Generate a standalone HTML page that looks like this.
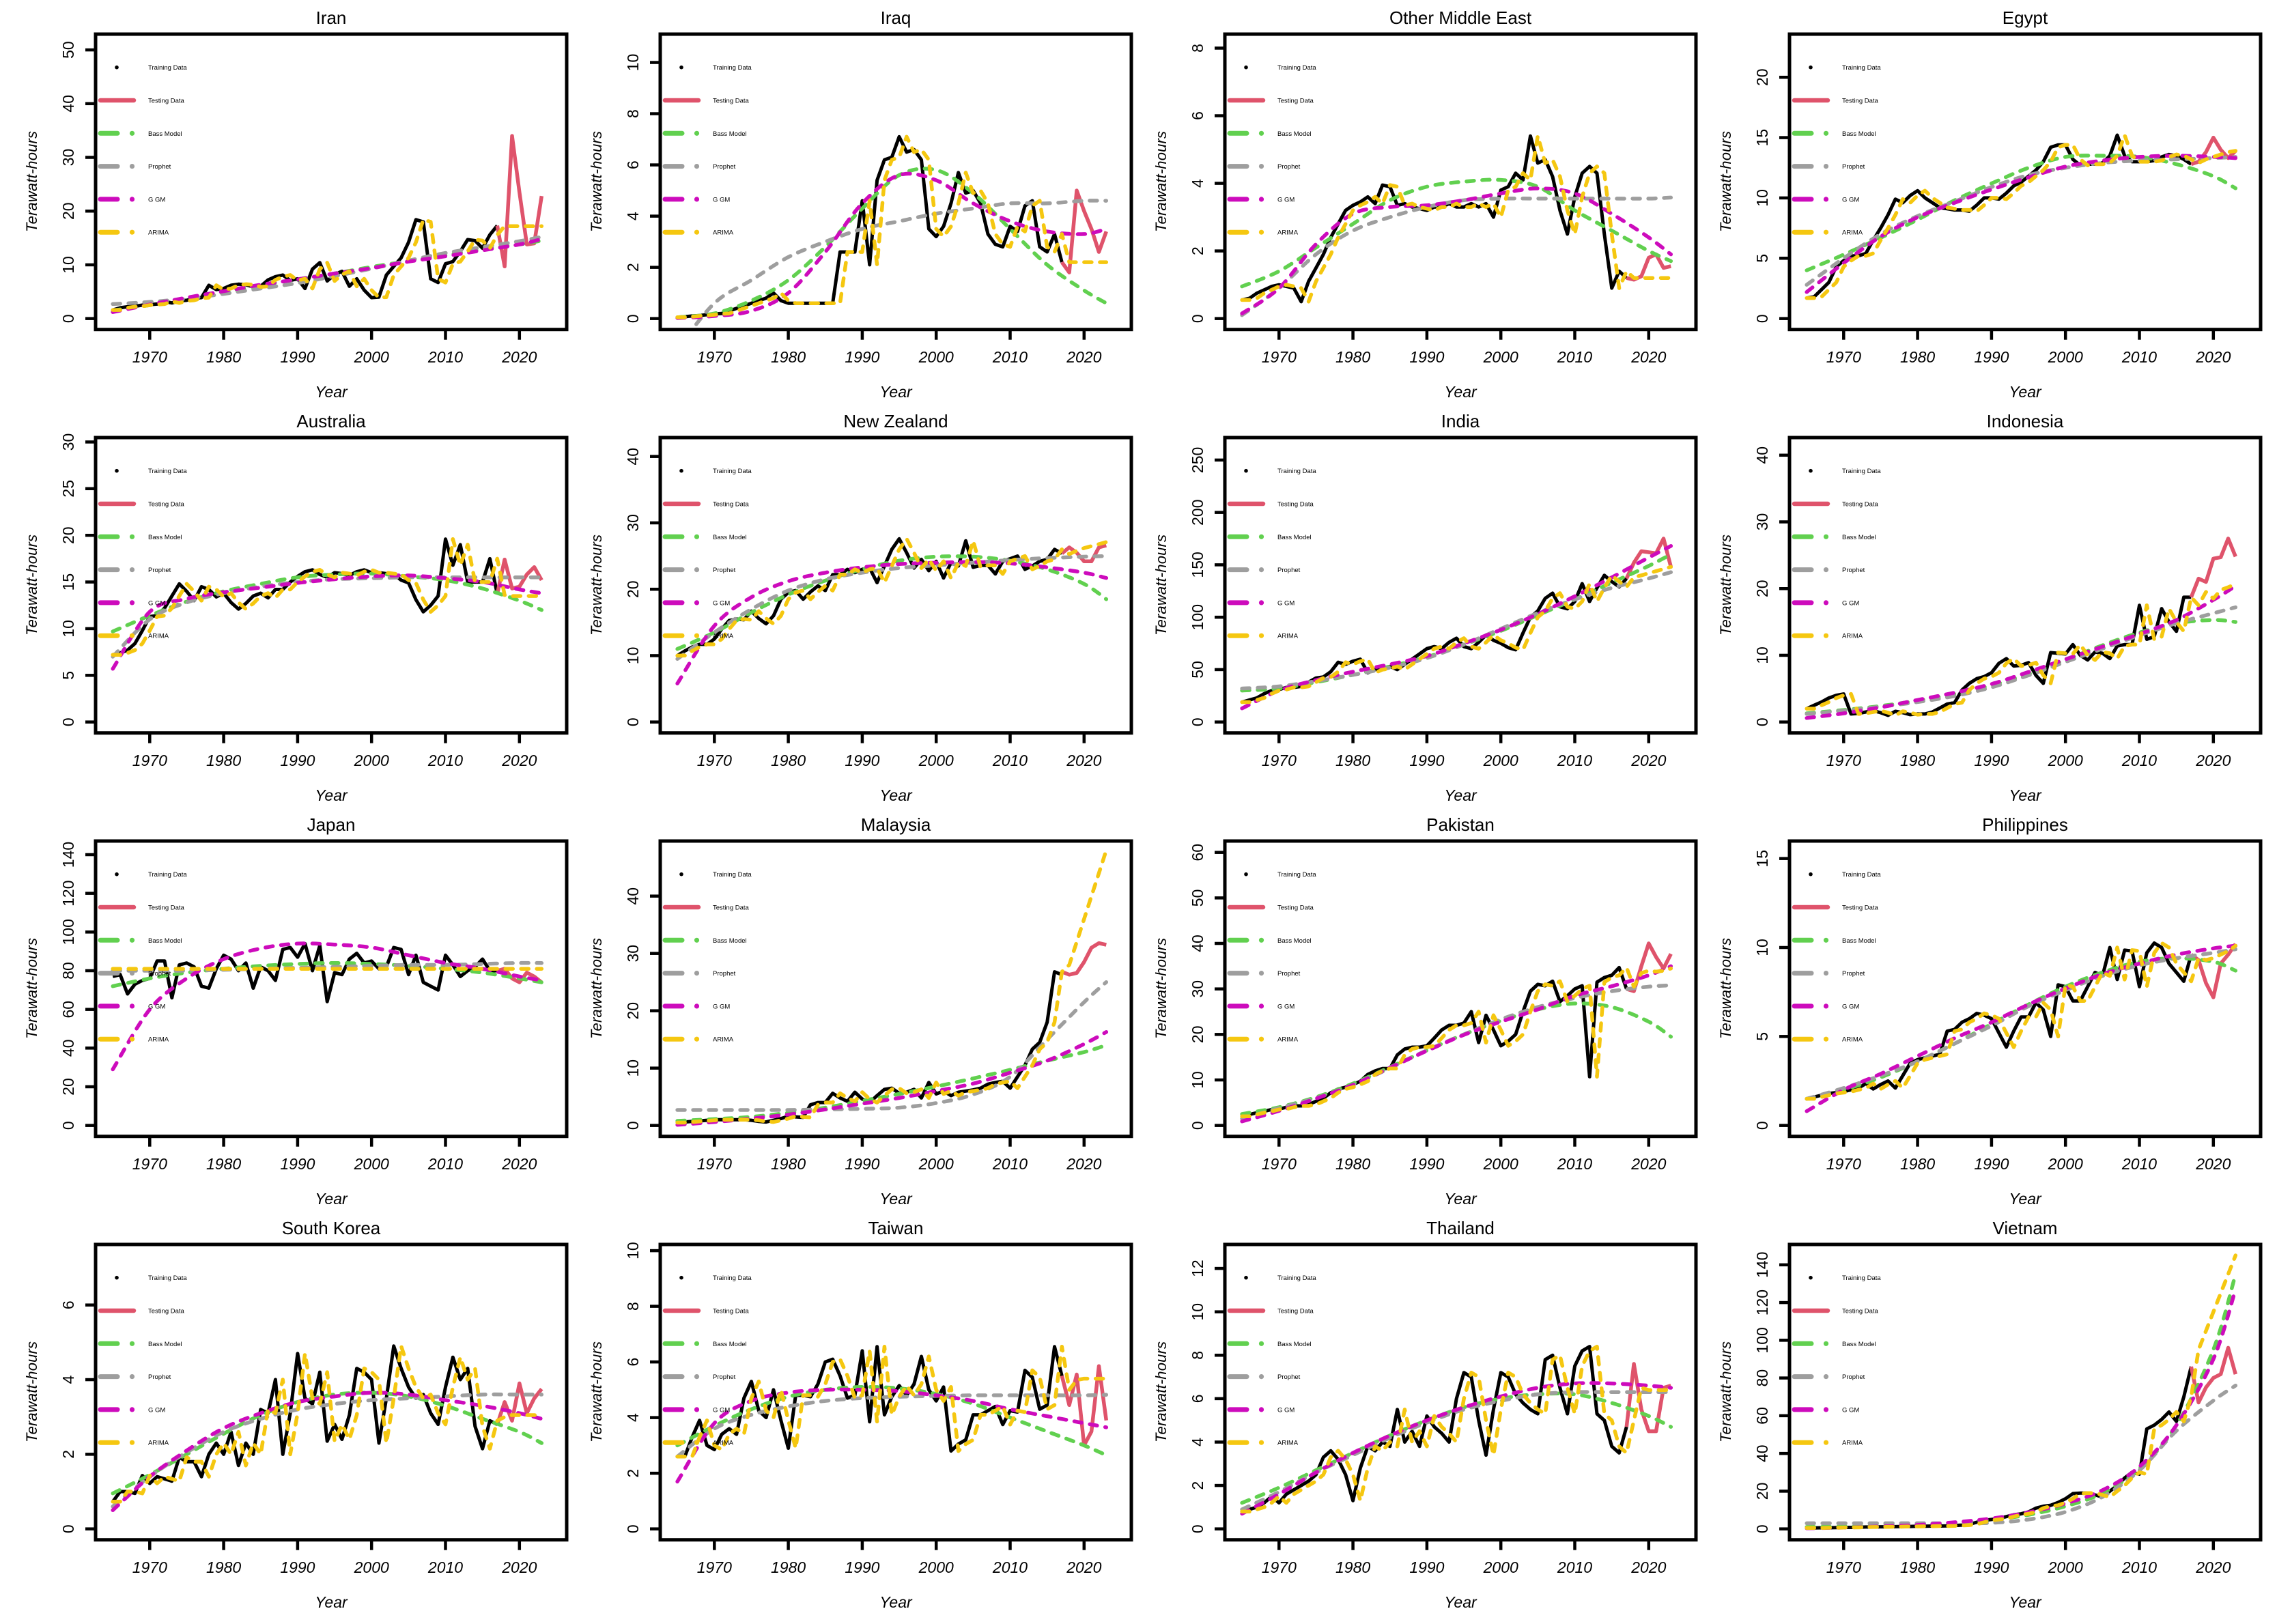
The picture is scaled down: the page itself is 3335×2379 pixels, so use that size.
<!DOCTYPE html>
<html><head><meta charset="utf-8"><title>Renewable generation forecasts</title>
<style>
html,body{margin:0;padding:0;background:#fff;}
svg{display:block;font-family:"Liberation Sans",sans-serif;}
</style></head>
<body>
<svg id="chart" xmlns="http://www.w3.org/2000/svg" width="3335" height="2379" viewBox="0 0 3335 2379"><rect width="3335" height="2379" fill="#fff"/></svg>
<script>
// ---- shared year axes ----
const trainStart = 1965, trainEnd = 2017;
const testYears = [2017,2018,2019,2020,2021,2022,2023];
const arimaYears = [2018,2019,2020,2021,2022,2023];
const modelYears = [1965,1970,1975,1980,1985,1990,1995,2000,2005,2010,2015,2020,2023];
const xTicks = [1970,1980,1990,2000,2010,2020];

// ---- Iran ----
const iranTrain = [1.6,2.0,2.2,2.3,2.5,2.6,2.7,3.2,2.9,3.3, 3.4,3.8,3.9,6.2,5.4,5.6,6.2,6.4,6.3,5.9, 6.0,7.2,7.8,8.1,7.1,7.4,5.6,9.2,10.4,7.0, 8.2,8.8,6.0,7.4,5.3,3.9,4.0,8.1,9.7,11.3, 14.2,18.4,18.0,7.4,6.7,10.2,10.6,12.5,14.7,14.5, 13.1,15.6,17.3];
const iranTest = [17.3,9.7,34.0,23.5,13.8,14.0,22.8];
const iranBass = [1.5,2.5,3.6,4.9,6.2,7.3,8.4,9.6,10.7,11.8,12.9,13.8,14.5];
const iranProphet = [2.7,3.1,3.7,4.6,5.6,6.6,7.9,9.3,10.8,12.2,13.3,14.4,15.2];
const iranGgm = [1.2,2.6,3.9,5.1,6.3,7.3,8.4,9.4,10.6,11.6,12.7,13.8,14.8];
const iranArima = [17.2,17.2,17.2,17.2,17.2,17.2];
const iranTicks = [0,10,20,30,40,50];
// ---- Iraq ----
const iraqTrain = [0.05,0.07,0.1,0.12,0.15,0.18,0.2,0.3,0.4,0.5, 0.6,0.7,0.8,1.0,0.7,0.6,0.6,0.6,0.6,0.6, 0.6,0.6,2.6,2.6,2.6,4.6,2.1,5.4,6.2,6.3, 7.1,6.5,6.6,6.2,3.5,3.2,3.6,4.5,5.7,4.9, 5.0,4.5,3.3,2.9,2.8,3.6,3.4,4.4,4.6,2.8, 2.6,3.3,2.2];
const iraqTest = [2.2,1.8,5.0,4.2,3.5,2.6,3.4];
const iraqBass = [0.05,0.2,0.7,1.5,2.8,4.3,5.6,5.8,4.9,3.5,2.1,1.1,0.6];
const iraqProphet = [-1.2,0.6,1.5,2.4,3.0,3.5,3.8,4.1,4.3,4.5,4.5,4.6,4.6];
const iraqGgm = [0.02,0.1,0.3,1.0,2.6,4.5,5.6,5.4,4.5,3.8,3.4,3.3,3.5];
const iraqArima = [2.2,2.2,2.2,2.2,2.2,2.2];
const iraqTicks = [0,2,4,6,8,10];
// ---- Other Middle East ----
const omeTrain = [0.55,0.6,0.75,0.85,0.95,1.0,0.95,0.9,0.5,1.1, 1.5,1.9,2.4,2.8,3.2,3.35,3.45,3.6,3.4,3.95, 3.9,3.35,3.4,3.3,3.25,3.2,3.3,3.3,3.4,3.3, 3.3,3.4,3.3,3.4,3.0,3.8,3.9,4.3,4.1,5.4, 4.6,4.7,4.2,3.2,2.5,3.6,4.3,4.5,4.3,2.5, 0.9,1.4,1.2];
const omeTest = [1.2,1.15,1.25,1.8,1.9,1.5,1.55];
const omeBass = [0.95,1.4,2.1,2.8,3.5,3.9,4.05,4.1,3.9,3.2,2.6,2.0,1.7];
const omeProphet = [0.1,0.9,1.9,2.6,3.0,3.3,3.5,3.55,3.55,3.55,3.55,3.55,3.58];
const omeGgm = [0.15,0.9,2.2,3.1,3.3,3.35,3.5,3.7,3.85,3.7,3.1,2.4,1.9];
const omeArima = [1.2,1.2,1.2,1.2,1.2,1.2];
const omeTicks = [0,2,4,6,8];
// ---- Egypt ----
const egyptTrain = [1.7,1.8,2.4,3.0,4.3,4.8,5.2,5.2,5.4,6.5, 7.5,8.6,9.9,9.6,10.2,10.6,10.0,9.6,9.2,9.1, 9.0,9.0,8.9,9.4,10.0,10.0,9.9,10.4,11.0,11.3, 11.8,12.3,13.0,14.2,14.4,14.4,13.2,12.7,12.8,12.8, 12.9,13.5,15.2,13.5,13.0,13.0,13.0,13.1,13.4,13.6, 13.5,13.2,12.8];
const egyptTest = [12.8,13.0,13.8,15.0,14.0,13.3,13.9];
const egyptBass = [4.0,5.3,6.7,8.2,9.8,11.2,12.5,13.4,13.5,13.4,12.8,11.8,10.8];
const egyptProphet = [2.8,5.0,7.0,8.5,9.7,10.9,11.9,12.5,12.9,13.1,13.2,13.3,13.4];
const egyptGgm = [2.2,4.6,6.8,8.4,9.6,10.7,11.7,12.6,13.1,13.4,13.5,13.4,13.3];
const egyptArima = [12.9,13.2,13.4,13.6,13.8,13.9];
const egyptTicks = [0,5,10,15,20];
// ---- Australia ----
const ausTrain = [7.2,7.4,7.7,8.4,9.8,11.3,11.4,12.2,13.5,14.8, 14.0,13.0,14.5,14.2,13.4,13.8,12.8,12.1,12.7,13.5, 13.8,13.3,14.2,14.2,15.0,15.6,16.1,16.3,15.8,15.5, 16.0,15.9,15.7,16.1,16.3,16.0,16.0,15.9,15.8,15.2, 14.9,13.1,11.8,12.5,13.5,19.6,16.8,19.0,15.0,15.0, 15.0,17.5,13.7];
const ausTest = [13.7,17.4,14.3,14.5,15.8,16.6,15.2];
const ausBass = [9.7,11.4,12.9,14.0,14.8,15.5,15.8,15.9,15.6,15.2,14.3,13.0,12.0];
const ausProphet = [7.0,11.0,12.8,13.8,14.5,15.0,15.3,15.4,15.5,15.5,15.5,15.5,15.5];
const ausGgm = [5.7,11.8,13.2,13.9,14.4,14.9,15.3,15.6,15.7,15.4,15.0,14.2,13.8];
const ausArima = [13.6,13.5,13.5,13.5,13.5,13.5];
const ausTicks = [0,5,10,15,20,25,30];
// ---- New Zealand ----
const nzTrain = [10.0,10.7,11.3,11.7,11.7,12.5,14.0,15.3,15.5,15.4, 16.7,15.6,14.8,16.0,18.5,19.5,19.8,18.5,19.6,20.5, 19.8,22.2,22.2,23.0,22.5,23.0,23.2,21.0,23.5,26.0, 27.6,25.5,23.2,24.5,22.8,24.2,21.7,24.0,23.5,27.3, 23.3,23.6,23.6,22.3,24.2,24.6,25.0,23.0,23.5,24.2, 24.5,26.0,25.4];
const nzTest = [25.4,26.3,25.5,24.2,24.2,26.3,26.6];
const nzBass = [11.0,13.5,16.5,19.2,21.3,23.0,24.3,24.9,24.9,24.3,23.0,20.8,18.5];
const nzProphet = [9.5,13.5,17.0,19.8,21.5,22.5,23.2,23.6,24.0,24.4,24.7,24.9,25.0];
const nzGgm = [5.8,14.5,18.8,21.2,22.5,23.3,23.8,24.0,24.1,23.9,23.3,22.5,21.7];
const nzArima = [25.3,25.8,26.2,26.5,26.8,27.1];
const nzTicks = [0,10,20,30,40];
// ---- India ----
const indiaTrain = [19,21,23,27,30,31,33,33,34,38, 42,43,48,57,55,58,60,47,50,51, 53,50,55,60,65,70,72,70,76,80, 72,70,76,83,78,75,71,69,85,100, 106,118,123,110,108,115,132,115,128,140, 134,129,137];
const indiaTest = [137,152,163,162,161,175,148];
const indiaBass = [30,32,38,45,53,62,74,87,102,117,133,149,160];
const indiaProphet = [32,34,39,45,52,61,74,89,104,117,128,137,143];
const indiaGgm = [13,30,40,48,55,63,75,88,103,120,138,157,168];
const indiaArima = [138,140,142,144,146,148];
const indiaTicks = [0,50,100,150,200,250];
// ---- Indonesia ----
const indoTrain = [2.0,2.5,3.0,3.6,4.0,4.2,1.2,1.3,1.5,1.7, 1.4,1.0,1.6,1.4,1.1,1.2,1.2,1.5,2.1,2.7, 2.9,4.8,5.8,6.5,6.8,7.4,8.8,9.5,8.4,8.5, 8.9,7.0,5.8,10.4,10.3,10.2,11.6,10.0,9.3,10.5, 10.3,9.5,11.4,11.6,11.6,17.5,12.4,12.8,17.0,15.0, 13.6,18.7,18.7];
const indoTest = [18.7,21.5,21.0,24.5,24.7,27.5,24.8];
const indoBass = [1.3,1.8,2.4,3.2,4.2,5.5,7.2,9.3,11.5,13.4,14.8,15.3,15.0];
const indoProphet = [1.2,1.7,2.3,3.0,3.9,5.2,7.0,9.0,11.0,13.0,14.8,16.3,17.2];
const indoGgm = [0.6,1.3,2.2,3.3,4.4,5.7,7.5,9.4,11.3,13.2,15.3,18.3,20.4];
const indoArima = [17.5,19.5,18.5,19.8,20.2,20.7];
const indoTicks = [0,10,20,30,40];
// ---- Japan ----
const japanTrain = [77,78,68,73,75,76,85,85,66,83, 84,82,72,71,81,88,86,80,84,71, 82,80,75,91,92,87,94,80,93,64, 79,78,86,89,84,85,81,82,92,91, 78,88,74,72,70,88,83,77,80,82, 86,80,80];
const japanTest = [80,81,76,74,79,77,74];
const japanBass = [72,76,79,81,82.5,83.5,84,83.5,82.5,81,79,76,74];
const japanProphet = [80,80,80,80.5,81,81.5,82,82.5,83,83,83.5,84,84];
const japanGgm = [29,60,76,86,91.5,94,93.5,92,88,84,81,77,75];
const japanArima = [81,81,81,81,81,81];
const japanArimaFlat = [81];
const japanTicks = [0,20,40,60,80,100,120,140];
// ---- Malaysia ----
const malTrain = [0.5,0.6,0.7,0.8,0.9,1.0,1.0,1.0,1.0,1.0, 0.9,0.7,0.6,0.9,1.2,1.6,1.5,1.4,3.6,4.0, 4.0,5.6,4.8,4.2,5.8,4.6,4.0,5.2,6.3,6.5, 5.6,5.8,6.3,4.8,7.5,5.5,6.0,5.2,5.8,6.0, 6.2,6.5,7.2,7.5,7.7,6.5,8.5,10.5,13.3,14.5, 18.0,26.8,26.3];
const malTest = [26.8,26.3,26.6,28.5,31.0,31.8,31.5];
const malBass = [0.8,1.1,1.5,2.2,3.1,4.3,5.5,6.8,8.2,9.7,11.3,12.8,14.0];
const malProphet = [2.7,2.7,2.7,2.7,2.8,2.9,3.1,3.9,5.4,8.5,15.0,21.5,25.0];
const malGgm = [0.1,0.6,1.2,1.9,2.8,3.8,4.8,6.0,7.3,9.2,11.3,14.2,16.3];
const malArima = [28,32,36,40,44,48];
const malTicks = [0,10,20,30,40];
// ---- Pakistan ----
const pakTrain = [2.0,2.4,2.8,3.1,3.5,3.6,4.0,4.3,4.3,4.6, 5.3,6.0,7.2,8.0,8.4,9.0,9.7,11.2,12.0,12.5, 12.5,15.5,16.8,17.2,17.2,17.5,19.2,21.0,22.0,22.0, 22.5,25.0,18.2,24.2,21.0,17.5,18.5,20.0,25.0,29.5, 31.0,30.7,31.7,27.2,28.5,30.0,30.7,10.7,31.5,32.5, 33.0,34.7,30.0];
const pakTest = [30,29.5,35,40,37,34.5,37.7];
const pakBass = [2.5,4.0,6.2,9.2,12.8,16.5,20.0,23.0,25.5,26.8,26.0,22.8,19.5];
const pakProphet = [1.5,3.8,6.0,8.9,12.6,16.5,20.0,23.3,26.0,28.0,29.5,30.5,30.8];
const pakGgm = [0.9,3.2,5.9,8.9,12.7,16.4,19.9,22.8,25.5,28.5,30.6,33.0,35.0];
const pakArima = [30.5,33.5,34.0,33.8,34.0,34.5];
const pakTicks = [0,10,20,30,40,50,60];
// ---- Philippines ----
const phTrain = [1.5,1.6,1.7,1.8,1.85,1.9,2.0,2.1,2.35,2.05, 2.3,2.5,2.1,2.8,3.5,3.7,3.8,3.9,4.0,5.3, 5.4,5.8,6.0,6.3,6.2,6.0,5.2,4.4,5.3,6.1, 6.1,6.9,6.5,5.0,7.9,7.8,7.0,7.0,7.8,8.6, 8.4,10.0,8.2,9.85,9.8,7.8,9.7,10.25,10.0,9.1, 8.6,8.1,9.6];
const phTest = [9.6,9.3,8.0,7.2,9.1,9.6,10.2];
const phBass = [1.5,2.0,2.7,3.6,4.6,5.7,6.8,7.8,8.6,9.2,9.4,9.2,8.7];
const phProphet = [1.5,2.1,2.8,3.6,4.6,5.6,6.7,7.6,8.4,9.0,9.4,9.7,9.9];
const phGgm = [0.8,2.0,2.9,3.9,4.9,5.8,6.8,7.7,8.5,9.1,9.6,9.95,10.1];
const phArima = [9.4,9.3,9.4,9.6,9.8,10.1];
const phTicks = [0,5,10,15];
// ---- South Korea ----
const skTrain = [0.73,1.0,1.0,0.95,1.43,1.22,1.4,1.34,1.28,1.92, 1.8,1.8,1.4,2.0,2.3,2.0,2.6,1.7,2.3,2.0, 3.2,3.1,4.0,2.0,3.1,4.7,3.5,3.35,4.2,2.35, 2.8,2.4,3.05,4.3,4.2,4.0,2.3,3.5,4.9,4.3, 3.8,3.5,3.6,3.1,2.8,3.8,4.6,4.0,4.3,2.75, 2.15,2.9,2.8];
const skTest = [2.8,3.4,2.9,3.9,3.1,3.5,3.75];
const skBass = [0.95,1.45,2.0,2.55,3.05,3.4,3.6,3.65,3.55,3.3,2.95,2.6,2.3];
const skProphet = [0.6,1.4,2.05,2.6,2.95,3.2,3.35,3.45,3.5,3.55,3.6,3.6,3.6];
const skGgm = [0.5,1.4,2.1,2.7,3.1,3.4,3.55,3.65,3.6,3.45,3.3,3.1,2.95];
const skArima = [3.0,3.05,3.05,3.05,3.05,3.05];
const skTicks = [0,2,4,6];
// ---- Taiwan ----
const twTrain = [2.6,2.6,3.3,3.9,3.0,2.85,3.4,3.6,3.4,4.7, 5.3,4.25,4.0,5.0,3.9,2.9,4.8,4.8,4.75,5.2, 6.0,6.1,5.5,4.7,4.8,6.4,3.85,6.55,4.1,4.75, 5.15,4.8,5.2,6.2,5.0,4.6,5.1,2.8,3.05,3.2, 4.1,4.1,4.25,4.4,3.75,4.25,4.2,5.7,5.45,4.3, 4.45,6.55,5.5];
const twTest = [5.5,4.45,5.55,3.0,3.5,5.85,3.9];
const twBass = [3.0,3.7,4.3,4.75,5.0,5.1,5.05,4.85,4.5,4.0,3.5,3.0,2.65];
const twProphet = [2.6,3.6,4.1,4.4,4.6,4.7,4.75,4.78,4.8,4.8,4.8,4.8,4.82];
const twGgm = [1.7,3.8,4.6,4.9,5.0,5.0,4.95,4.8,4.6,4.3,4.05,3.8,3.65];
const twArima = [5.0,5.35,5.4,5.4,5.4,5.4];
const twTicks = [0,2,4,6,8,10];
// ---- Thailand ----
const thTrain = [0.8,0.9,1.0,1.2,1.5,1.2,1.6,1.8,2.0,2.2, 2.5,3.3,3.6,3.2,2.5,1.3,2.8,3.8,3.6,4.0, 3.8,5.5,4.0,4.5,3.8,5.2,4.7,4.4,4.0,6.0, 7.2,7.0,5.0,3.4,5.5,7.2,7.0,6.2,5.8,5.5, 5.3,7.8,8.0,6.5,5.3,7.5,8.2,8.4,5.3,5.0, 3.8,3.5,4.7];
const thTest = [4.7,7.6,5.5,4.5,4.5,6.5,6.6];
const thBass = [1.2,1.9,2.7,3.5,4.3,5.0,5.6,6.0,6.2,6.2,5.8,5.2,4.7];
const thProphet = [0.9,1.7,2.6,3.4,4.2,4.9,5.5,5.9,6.2,6.3,6.3,6.3,6.3];
const thGgm = [0.7,1.6,2.6,3.5,4.3,5.0,5.6,6.1,6.5,6.7,6.7,6.6,6.5];
const thArima = [5.0,6.5,6.4,6.4,6.4,6.4];
const thTicks = [0,2,4,6,8,10,12];
// ---- Vietnam ----
const vnTrain = [0.5,0.5,0.6,0.6,0.7,0.8,0.8,0.9,1.0,1.0, 1.1,1.1,1.2,1.3,1.3,1.4,1.4,1.5,1.5,1.6, 1.8,2.0,2.5,3.5,4.5,5.0,5.5,6.5,7.5,8.0, 9.0,11,12,12.5,14,16,18.7,19,19,18, 16.9,20,23,27,30,29,53,55,58,62, 57,70,86];
const vnTest = [86,67,75,80,82,96,82];
const vnBass = [1,1.3,1.7,2.3,3.2,4.8,7.5,12,19,32,55,95,135];
const vnProphet = [3,3,3,3,3,3.2,5,9,17,31,52,68,76];
const vnGgm = [0.3,0.7,1.3,2.1,3.5,5.5,8.8,13.5,20.5,33,55,90,127];
const vnArima = [95,105,115,125,135,145];
const vnTicks = [0,20,40,60,80,100,120,140];

const panels = [
 {title:'Iran',train:iranTrain,test:iranTest,bass:iranBass,prophet:iranProphet,ggm:iranGgm,arima:iranArima,ticks:iranTicks,ymax:50.9},
 {title:'Iraq',train:iraqTrain,test:iraqTest,bass:iraqBass,prophet:iraqProphet,ggm:iraqGgm,arima:iraqArima,ticks:iraqTicks,ymax:10.68},
 {title:'Other Middle East',train:omeTrain,test:omeTest,bass:omeBass,prophet:omeProphet,ggm:omeGgm,arima:omeArima,ticks:omeTicks,ymax:8.09},
 {title:'Egypt',train:egyptTrain,test:egyptTest,bass:egyptBass,prophet:egyptProphet,ggm:egyptGgm,arima:egyptArima,ticks:egyptTicks,ymax:22.67},
 {title:'Australia',train:ausTrain,test:ausTest,bass:ausBass,prophet:ausProphet,ggm:ausGgm,arima:ausArima,ticks:ausTicks,ymax:29.3},
 {title:'New Zealand',train:nzTrain,test:nzTest,bass:nzBass,prophet:nzProphet,ggm:nzGgm,arima:nzArima,ticks:nzTicks,ymax:41.2},
 {title:'India',train:indiaTrain,test:indiaTest,bass:indiaBass,prophet:indiaProphet,ggm:indiaGgm,arima:indiaArima,ticks:indiaTicks,ymax:261},
 {title:'Indonesia',train:indoTrain,test:indoTest,bass:indoBass,prophet:indoProphet,ggm:indoGgm,arima:indoArima,ticks:indoTicks,ymax:41},
 {title:'Japan',train:japanTrain,test:japanTest,bass:japanBass,prophet:japanProphet,ggm:japanGgm,arima:japanArima,flat:japanArimaFlat,ticks:japanTicks,ymax:141.4},
 {title:'Malaysia',train:malTrain,test:malTest,bass:malBass,prophet:malProphet,ggm:malGgm,arima:malArima,ticks:malTicks,ymax:47.7},
 {title:'Pakistan',train:pakTrain,test:pakTest,bass:pakBass,prophet:pakProphet,ggm:pakGgm,arima:pakArima,ticks:pakTicks,ymax:60.1},
 {title:'Philippines',train:phTrain,test:phTest,bass:phBass,prophet:phProphet,ggm:phGgm,arima:phArima,ticks:phTicks,ymax:15.37},
 {title:'South Korea',train:skTrain,test:skTest,bass:skBass,prophet:skProphet,ggm:skGgm,arima:skArima,ticks:skTicks,ymax:7.33},
 {title:'Taiwan',train:twTrain,test:twTest,bass:twBass,prophet:twProphet,ggm:twGgm,arima:twArima,ticks:twTicks,ymax:9.83},
 {title:'Thailand',train:thTrain,test:thTest,bass:thBass,prophet:thProphet,ggm:thGgm,arima:thArima,ticks:thTicks,ymax:12.6},
 {title:'Vietnam',train:vnTrain,test:vnTest,bass:vnBass,prophet:vnProphet,ggm:vnGgm,arima:vnArima,ticks:vnTicks,ymax:145}
];

const NS = 'http://www.w3.org/2000/svg';
const svg = document.getElementById('chart');
const COLW = 827, ROWH = 591;
const BOX_L = 140, BOX_R = 830, BOX_T = 50, BOX_B = 482.7;
const C = {test:'#DF536B', bass:'#61D04F', prophet:'#9E9E9E', ggm:'#CD0BBC', arima:'#F5C710'};

function mk(tag, attrs, parent) {
  const e = document.createElementNS(NS, tag);
  for (const k in attrs) e.setAttribute(k, attrs[k]);
  parent.appendChild(e);
  return e;
}
function slug(s){ return s.toLowerCase().replace(/[^a-z0-9]+/g,'-'); }

function linePath(pts) {
  return pts.map((p,i)=>(i?'L':'M')+p[0].toFixed(1)+' '+p[1].toFixed(1)).join(' ');
}
function smoothPath(pts) {
  let d = 'M'+pts[0][0].toFixed(1)+' '+pts[0][1].toFixed(1);
  for (let i=0;i<pts.length-1;i++){
    const p0=pts[Math.max(0,i-1)], p1=pts[i], p2=pts[i+1], p3=pts[Math.min(pts.length-1,i+2)];
    const c1x=p1[0]+(p2[0]-p0[0])/6, c1y=p1[1]+(p2[1]-p0[1])/6;
    const c2x=p2[0]-(p3[0]-p1[0])/6, c2y=p2[1]-(p3[1]-p1[1])/6;
    d+=' C'+c1x.toFixed(1)+' '+c1y.toFixed(1)+' '+c2x.toFixed(1)+' '+c2y.toFixed(1)+' '+p2[0].toFixed(1)+' '+p2[1].toFixed(1);
  }
  return d;
}

const defs = mk('defs', {}, svg);

panels.forEach((p, idx) => {
  const col = idx % 4, row = Math.floor(idx / 4);
  const ox = col * COLW, oy = row * ROWH;
  const R = p.ymax;
  const xs = yr => ox + 219.3 + (yr - 1970) * 10.83;
  const ys = v => oy + BOX_T + (BOX_B - BOX_T) * (1.04 * R - v) / (1.08 * R);
  const name = slug(p.title);

  const g = mk('g', {}, svg);
  
  

  const cp = mk('clipPath', {id:'clip'+idx}, defs);
  mk('rect', {x:ox+BOX_L, y:oy+BOX_T, width:BOX_R-BOX_L, height:BOX_B-BOX_T}, cp);

  const t = mk('text', {x:ox+(BOX_L+BOX_R)/2, y:oy+35, 'text-anchor':'middle', 'font-size':26, fill:'#000'}, g);
  t.textContent = p.title;
  
  

  const yl = mk('text', {x:ox+54, y:oy+266, 'text-anchor':'middle', 'font-size':22, 'font-style':'italic', transform:'rotate(-90 '+(ox+54)+' '+(oy+266)+')', fill:'#000', textLength:148, lengthAdjust:'spacing'}, g);
  yl.textContent = 'Terawatt-hours';
  
  

  const xl = mk('text', {x:ox+(BOX_L+BOX_R)/2, y:oy+582, 'text-anchor':'middle', 'font-size':23, 'font-style':'italic', fill:'#000'}, g);
  xl.textContent = 'Year';
  
  

  p.ticks.forEach(v => {
    const y = ys(v);
    const tk = mk('line', {x1:ox+125, x2:ox+BOX_L, y1:y, y2:y, stroke:'#000', 'stroke-width':4.5}, g);
    
    
    const tl = mk('text', {x:ox+108, y:y, 'text-anchor':'middle', 'font-size':23, fill:'#000', transform:'rotate(-90 '+(ox+108)+' '+y.toFixed(1)+')'}, g);
    tl.textContent = String(v);
    
    
  });
  xTicks.forEach(yr => {
    const x = xs(yr);
    const tk = mk('line', {x1:x, x2:x, y1:oy+BOX_B, y2:oy+BOX_B+15, stroke:'#000', 'stroke-width':4.5}, g);
    
    
    const tl = mk('text', {x:x, y:oy+531, 'text-anchor':'middle', 'font-size':23, 'font-style':'italic', fill:'#000'}, g);
    tl.textContent = String(yr);
    
    
  });

  const plot = mk('g', {'clip-path':'url(#clip'+idx+')'}, g);
  
  

  const trainPts = p.train.map((v,i)=>[xs(trainStart+i), ys(v)]);
  const tr = mk('path', {d:linePath(trainPts), fill:'none', stroke:'#000', 'stroke-width':5, 'stroke-linejoin':'round'}, plot);
  
  

  const testPts = p.test.map((v,i)=>[xs(testYears[i]), ys(v)]);
  const te = mk('path', {d:linePath(testPts), fill:'none', stroke:C.test, 'stroke-width':5.5, 'stroke-linejoin':'round'}, plot);
  
  

  [['bass','bass-model-line'],['prophet','prophet-line'],['ggm','ggm-line']].forEach(([k,n]) => {
    const pts = p[k].map((v,i)=>[xs(modelYears[i]), ys(v)]);
    const m = mk('path', {d:smoothPath(pts), fill:'none', stroke:C[k], 'stroke-width':5.5, 'stroke-dasharray':'11 12', 'stroke-linecap':'round'}, plot);
    
    
  });

  let arimaPts;
  if (p.flat) {
    arimaPts = [[xs(1965), ys(p.flat[0])]].concat(p.arima.map((v,i)=>[xs(arimaYears[i]), ys(v)]));
  } else {
    arimaPts = p.train.map((v,i)=>[xs(trainStart+i), ys(i===0 ? p.train[0] : p.train[i-1])])
      .concat(p.arima.map((v,i)=>[xs(arimaYears[i]), ys(v)]));
  }
  const ar = mk('path', {d:linePath(arimaPts), fill:'none', stroke:C.arima, 'stroke-width':5.5, 'stroke-dasharray':'11 12', 'stroke-linecap':'round', 'stroke-linejoin':'round'}, plot);
  
  

  const box = mk('rect', {x:ox+BOX_L, y:oy+BOX_T, width:BOX_R-BOX_L, height:BOX_B-BOX_T, fill:'none', stroke:'#000', 'stroke-width':5}, g);
  
  

  const lg = mk('g', {}, g);
  
  
  const entries = [['Training Data','#000','dot'],['Testing Data',C.test,'line'],['Bass Model',C.bass,'dash'],['Prophet',C.prophet,'dash'],['G GM',C.ggm,'dash'],['ARIMA',C.arima,'dash']];
  entries.forEach((en, i) => {
    const y = oy + BOX_T + 48.7 + i * 48.3;
    const eg = mk('g', {}, lg);
    
    
    if (en[2] === 'dot') {
      mk('circle', {cx:ox+171, cy:y, r:2.8, fill:en[1]}, eg);
    } else if (en[2] === 'line') {
      mk('line', {x1:ox+147, x2:ox+196, y1:y, y2:y, stroke:en[1], 'stroke-width':6.5, 'stroke-linecap':'round'}, eg);
    } else {
      mk('line', {x1:ox+147, x2:ox+172, y1:y, y2:y, stroke:en[1], 'stroke-width':7, 'stroke-linecap':'round'}, eg);
      mk('circle', {cx:ox+193.5, cy:y, r:3.6, fill:en[1]}, eg);
    }
    const lt = mk('text', {x:ox+217, y:y+3.5, 'font-size':9.5, fill:'#000'}, eg);
    lt.textContent = en[0];
    
    
  });
});
</script>
</body></html>
